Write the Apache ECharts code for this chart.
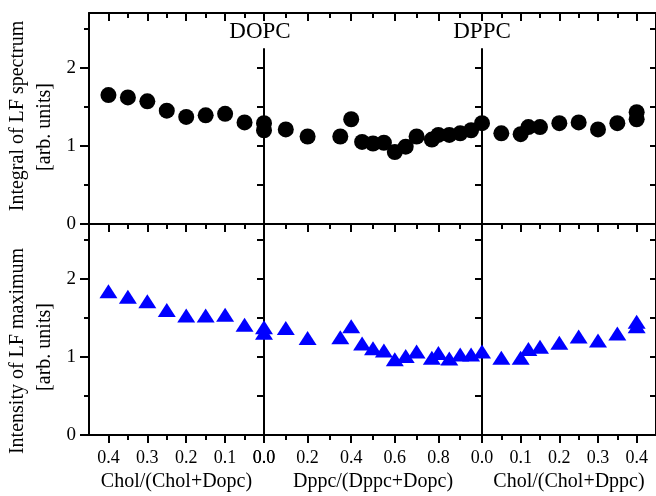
<!DOCTYPE html>
<html><head><meta charset="utf-8">
<script src="https://cdn.jsdelivr.net/npm/echarts@6/dist/echarts.min.js"></script>
<style>html,body{margin:0;padding:0;background:#fff}#c{width:656px;height:496px}</style>
</head><body><div id="c"></div><script>
// ---- data ----
const topLeftX = [0.4, 0.35, 0.3, 0.25, 0.2, 0.15, 0.1, 0.05, 0.0];
const topLeftY = [1.65, 1.62, 1.57, 1.45, 1.37, 1.39, 1.41, 1.30, 1.29];
const topMidX = [0, 0.1, 0.2, 0.35, 0.4, 0.45, 0.5, 0.55, 0.6, 0.65, 0.7, 0.77, 0.8, 0.85, 0.9, 0.95];
const topMidY = [1.20, 1.21, 1.12, 1.12, 1.34, 1.05, 1.03, 1.04, 0.92, 0.99, 1.12, 1.08, 1.14, 1.14, 1.16, 1.20];
const topRightX = [0, 0.05, 0.1, 0.12, 0.15, 0.2, 0.25, 0.3, 0.35, 0.4, 0.4];
const topRightY = [1.29, 1.16, 1.15, 1.24, 1.24, 1.29, 1.30, 1.21, 1.29, 1.43, 1.34];

const botLeftX = [0.4, 0.35, 0.3, 0.25, 0.2, 0.15, 0.1, 0.05, 0.0];
const botLeftY = [1.84, 1.77, 1.71, 1.60, 1.53, 1.53, 1.54, 1.41, 1.38];
const botMidX = [0, 0.1, 0.2, 0.35, 0.4, 0.45, 0.5, 0.55, 0.6, 0.65, 0.7, 0.77, 0.8, 0.85, 0.9, 0.95];
const botMidY = [1.31, 1.37, 1.24, 1.25, 1.39, 1.17, 1.11, 1.08, 0.97, 1.01, 1.07, 0.99, 1.05, 0.98, 1.03, 1.03];
const botRightX = [0, 0.05, 0.1, 0.12, 0.15, 0.2, 0.25, 0.3, 0.35, 0.4, 0.4];
const botRightY = [1.07, 0.99, 0.99, 1.10, 1.13, 1.18, 1.26, 1.21, 1.30, 1.45, 1.39];

// ---- ticks / labels ----
const xMajorChol = [0, 0.1, 0.2, 0.3, 0.4];
const xMinorChol = [0.05, 0.15, 0.25, 0.35];
const xMajorDppc = [0, 0.2, 0.4, 0.6, 0.8];
const xMinorDppc = [0.1, 0.3, 0.5, 0.7, 0.9];
const yMajor = [0, 1, 2];
const yMinor = [0.5, 1.5, 2.5];
const yDivider = [0.5, 1, 1.5, 2, 2.5];
const yDividerTop = [0.5, 1, 1.5, 2];
const xNames = ['Chol/(Chol+Dopc)', 'Dppc/(Dppc+Dopc)', 'Chol/(Chol+Dppc)'];
const yTitles = [['Integral of LF spectrum', '[arb. units]'], ['Intensity of LF maximum', '[arb. units]']];
const panelLabels = ['DOPC', 'DPPC'];
const dividerTopEnd = 2.25;

// ---- build ----
const FONT = 'Liberation Serif';
const cols = [{left: 89, width: 175}, {left: 264, width: 218}, {left: 482, width: 174}];
const rows = [{top: 13, height: 211}, {top: 224, height: 211}];
const xConf = [
  {max: 0.45, inverse: true, major: xMajorChol, minor: xMinorChol},
  {max: 1, inverse: false, major: xMajorDppc, minor: xMinorDppc},
  {max: 0.45, inverse: false, major: xMajorChol, minor: xMinorChol}
];
const dataSets = [
  [[topLeftX, topLeftY], [topMidX, topMidY], [topRightX, topRightY]],
  [[botLeftX, botLeftY], [botMidX, botMidY], [botRightX, botRightY]]
];

const grids = [], xAxes = [], yAxes = [], series = [];
const LS = {color: '#000', width: 2};
function addX(o) { xAxes.push(o); return xAxes.length - 1; }
function addY(o) { yAxes.push(o); return yAxes.length - 1; }

for (let r = 0; r < 2; r++) {
  for (let c = 0; c < 3; c++) {
    const g = grids.length;
    grids.push({left: cols[c].left, width: cols[c].width, top: rows[r].top, height: rows[r].height, containLabel: false});
    const xc = xConf[c];
    const bx = (extra) => Object.assign({
      type: 'value', gridIndex: g, min: 0, max: xc.max, inverse: xc.inverse,
      splitLine: {show: false}
    }, extra);
    const mx = addX(bx({
      position: 'bottom',
      axisLine: {show: true, onZero: false, lineStyle: LS},
      axisTick: {show: true, inside: false, length: 8, customValues: xc.major, lineStyle: LS},
      axisLabel: {show: r === 1, customValues: xc.major, formatter: v => v.toFixed(1),
        fontFamily: FONT, fontSize: 18, color: '#000', margin: 14},
      name: r === 1 ? xNames[c] : '', nameLocation: 'middle', nameGap: 37,
      nameTextStyle: {fontFamily: FONT, fontSize: 20, color: '#000'}
    }));
    addX(bx({
      position: 'bottom',
      axisLine: {show: false, onZero: false},
      axisTick: {show: true, inside: false, length: 5, customValues: xc.minor, lineStyle: LS},
      axisLabel: {show: false}
    }));
    if (r === 0) {
      addX(bx({
        position: 'top',
        axisLine: {show: true, onZero: false, lineStyle: LS},
        axisTick: {show: true, inside: true, length: 8, customValues: xc.major, lineStyle: LS},
        axisLabel: {show: false}
      }));
      addX(bx({
        position: 'top',
        axisLine: {show: false, onZero: false},
        axisTick: {show: true, inside: true, length: 5, customValues: xc.minor, lineStyle: LS},
        axisLabel: {show: false}
      }));
    }
    const by = (extra) => Object.assign({
      type: 'value', gridIndex: g, min: 0, max: 2.7, splitLine: {show: false}
    }, extra);
    const my = addY(by({
      position: 'left',
      axisLine: {show: c === 0 || r === 1, onZero: false, lineStyle: LS},
      axisTick: {show: true, inside: false, length: c === 0 ? 9 : 7,
        customValues: c === 0 ? yMajor : (r === 0 ? yDividerTop : yDivider), lineStyle: LS},
      axisLabel: {show: c === 0, customValues: yMajor, fontFamily: FONT, fontSize: 19, color: '#000', margin: 13}
    }));
    if (c === 0) {
      addY(by({
        position: 'left',
        axisLine: {show: false, onZero: false},
        axisTick: {show: true, inside: false, length: 5, customValues: yMinor, lineStyle: LS},
        axisLabel: {show: false}
      }));
    }
    if (c === 2) {
      addY(by({
        position: 'right',
        axisLine: {show: true, onZero: false, lineStyle: LS},
        axisTick: {show: true, inside: true, length: 6, customValues: yDivider, lineStyle: LS},
        axisLabel: {show: false}
      }));
    }
    const [X, Y] = dataSets[r][c];
    const s = {
      type: 'scatter', xAxisIndex: mx, yAxisIndex: my, clip: false, z: 5,
      data: X.map((x, i) => [x, Y[i]]),
      symbol: r === 0 ? 'circle' : 'triangle',
      symbolSize: r === 0 ? 16 : [18, 14],
      itemStyle: {color: r === 0 ? '#000000' : '#0000ff', opacity: 1}
    };
    if (r === 0 && c > 0) {
      s.markLine = {
        silent: true, symbol: ['none', 'none'], label: {show: false},
        lineStyle: {color: '#000', width: 2, type: 'solid'},
        data: [[{coord: [0, 0]}, {coord: [0, dividerTopEnd]}]]
      };
    }
    series.push(s);
  }
}

const graphic = [];
const titleCenters = [[[18, 116], [45, 127]], [[18, 351], [45, 347]]];
for (let r = 0; r < 2; r++) {
  for (let k = 0; k < 2; k++) {
    graphic.push({type: 'text', x: titleCenters[r][k][0], y: titleCenters[r][k][1], rotation: Math.PI / 2,
      style: {text: yTitles[r][k], fontFamily: FONT, fontSize: 20, fill: '#000', align: 'center', verticalAlign: 'middle'}});
  }
}
const labelCenters = [[260, 32], [482, 32]];
panelLabels.forEach((t, i) => graphic.push({type: 'text', x: labelCenters[i][0], y: labelCenters[i][1],
  style: {text: t, fontFamily: FONT, fontSize: 23, fill: '#000', align: 'center', verticalAlign: 'middle'}}));

const chart = echarts.init(document.getElementById('c'), null, {renderer: 'canvas'});
chart.setOption({
  animation: false,
  backgroundColor: '#fff',
  grid: grids, xAxis: xAxes, yAxis: yAxes, series: series, graphic: graphic
});
</script></body></html>
